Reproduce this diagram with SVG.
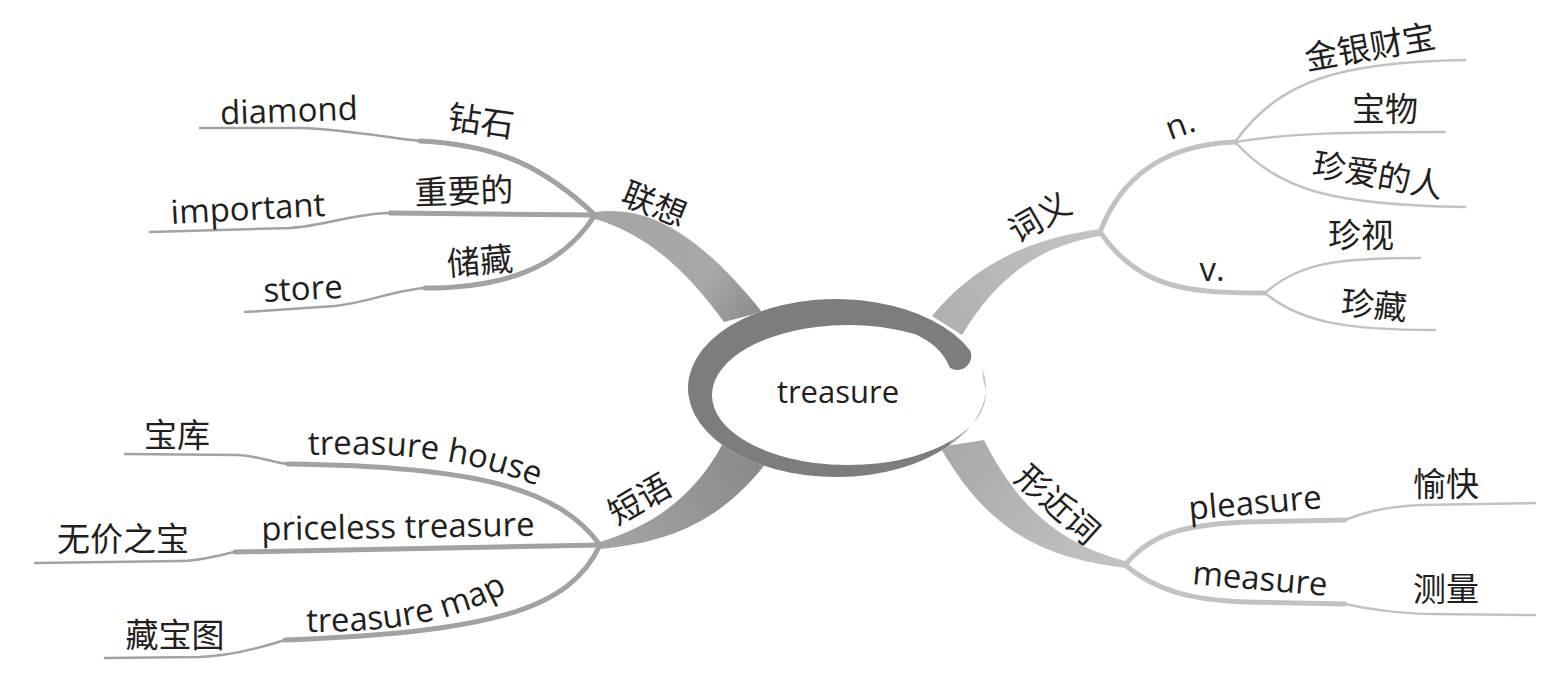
<svg xmlns="http://www.w3.org/2000/svg" width="1541" height="687" viewBox="0 0 1541 687">
<style>
text{font-family:"Open Sans","Noto Sans CJK SC",sans-serif;font-size:33px;fill:#231f20;text-anchor:middle}
.sl{fill:none;stroke:#a2a2a2;stroke-linecap:round}
.sr{fill:none;stroke:#c2c2c2;stroke-linecap:round}
.w5{stroke-width:5}
.w3{stroke-width:2.5}
</style>
<defs>
<linearGradient id="gTL" gradientUnits="userSpaceOnUse" x1="750" y1="315" x2="595" y2="215"><stop offset="0" stop-color="#8e8e8e"/><stop offset="0.3" stop-color="#a8a8a8"/><stop offset="1" stop-color="#a5a5a5"/></linearGradient>
<linearGradient id="gTR" gradientUnits="userSpaceOnUse" x1="945" y1="325" x2="1100" y2="232"><stop offset="0" stop-color="#b0b0b0"/><stop offset="1" stop-color="#c4c4c4"/></linearGradient>
<linearGradient id="gBL" gradientUnits="userSpaceOnUse" x1="750" y1="450" x2="600" y2="545"><stop offset="0" stop-color="#8a8a8a"/><stop offset="1" stop-color="#a5a5a5"/></linearGradient>
<linearGradient id="gBR" gradientUnits="userSpaceOnUse" x1="960" y1="445" x2="1125" y2="565"><stop offset="0" stop-color="#aaaaaa"/><stop offset="1" stop-color="#c4c4c4"/></linearGradient>
<linearGradient id="gRing" gradientUnits="userSpaceOnUse" x1="0" y1="360" x2="0" y2="450"><stop offset="0" stop-color="#d6d6d6"/><stop offset="1" stop-color="#9a9a9a"/></linearGradient>
</defs>
<g id="connectors">
<path d="M595,212 C650,205 700,235 762,312 L724,322 C690,275 650,235 595,219 Z" fill="url(#gTL)"/>
<path d="M932,316 C970,270 1020,240 1100,229 L1100,236 C1045,245 1000,272 962,335 Z" fill="url(#gTR)"/>
<path d="M600,542 C655,525 695,495 722,445 L770,458 C725,518 675,542 600,549 Z" fill="url(#gBL)"/>
<path d="M940,447 C985,525 1035,557 1125,568 L1125,561 C1065,545 1020,512 984,440 Z" fill="url(#gBR)"/>
<path class="sl w5" d="M595,215 C545,168 500,145 420,141"/>
<path class="sl w3" d="M420,141 C385,137 340,129 300,128 L200,128"/>
<path class="sl w5" d="M595,215 L390,213"/>
<path class="sl w3" d="M390,213 C355,213 325,226 290,228 L150,232"/>
<path class="sl w5" d="M595,215 C560,270 500,288 425,288"/>
<path class="sl w3" d="M425,288 C395,290 370,302 335,306 L245,312"/>
<path class="sr w5" d="M1100,232 C1120,180 1160,145 1235,142"/>
<path class="sr w5" d="M1100,232 C1140,290 1190,293 1265,293"/>
<path class="sr w3" d="M1235,142 C1280,80 1340,62 1465,60"/>
<path class="sr w3" d="M1235,142 C1290,133 1350,132 1445,132"/>
<path class="sr w3" d="M1235,142 C1280,190 1330,205 1465,207"/>
<path class="sr w3" d="M1265,293 C1300,262 1340,258 1420,258"/>
<path class="sr w3" d="M1265,293 C1300,322 1345,330 1435,330"/>
<path class="sl w5" d="M600,545 C560,490 480,466 288,464"/>
<path class="sl w3" d="M288,464 C270,462 258,456 238,455 L125,454"/>
<path class="sl w5" d="M600,545 L235,552"/>
<path class="sl w3" d="M235,552 C215,556 200,561 180,561 L35,563"/>
<path class="sl w5" d="M600,545 C570,610 490,632 285,640"/>
<path class="sl w3" d="M285,640 C260,648 230,656 200,657 L105,658"/>
<path class="sr w5" d="M1125,565 C1150,535 1180,525 1245,522 L1345,520"/>
<path class="sr w3" d="M1345,520 C1360,514 1380,507 1420,505 L1535,503"/>
<path class="sr w5" d="M1125,565 C1155,590 1190,600 1245,602 L1345,604"/>
<path class="sr w3" d="M1345,604 C1365,608 1390,613 1430,614 L1535,615"/>
<path id="pHouse" d="M308,455 C400,452 470,458 548,490" fill="none"/>
<path id="pMap" d="M306,632 C390,632 452,624 515,588" fill="none"/>
</g>
<g id="center">
<ellipse cx="836" cy="388" rx="148" ry="89" fill="#fff"/>
<path d="M949.4,445.2 A148,89 0 0 0 982.5,368 L983,380 A136,70 0 0 1 952.2,440 Z" fill="url(#gRing)"/>
<path d="M970.1,350.4 A148,89 0 1 0 949.4,445.2 L952.2,440 A136,70 0 1 1 916,334.4 C932,342 944,352 950,368 A14,14 0 0 0 970.1,350.4 Z" fill="#7d7d7d"/>
<text x="838" y="403" style="font-size:31px">treasure</text>
</g>
<g id="n-lianxiang"><text x="654" y="216" transform="rotate(22 654 205)">联想</text></g>
<g id="n-zuanshi"><text x="481" y="133" transform="rotate(8 481 122)">钻石</text></g>
<g id="n-diamond"><text x="289" y="122" transform="rotate(-2 289 112)">diamond</text></g>
<g id="n-zhongyao"><text x="464" y="203" transform="rotate(-2 464 192)">重要的</text></g>
<g id="n-important"><text x="248" y="220" transform="rotate(-3 248 210)">important</text></g>
<g id="n-chucang"><text x="480" y="273" transform="rotate(-5 480 262)">储藏</text></g>
<g id="n-store"><text x="303" y="300" transform="rotate(-3 303 290)">store</text></g>
<g id="n-ciyi"><text x="1040" y="229" transform="rotate(-30 1040 218)">词义</text></g>
<g id="n-n"><text x="1180" y="136" transform="rotate(-20 1180 125)">n.</text></g>
<g id="n-v"><text x="1212" y="281">v.</text></g>
<g id="n-jinyin"><text x="1370" y="59" transform="rotate(-10 1370 48)">金银财宝</text></g>
<g id="n-baowu"><text x="1385" y="121">宝物</text></g>
<g id="n-zhenai"><text x="1378" y="187" transform="rotate(10 1378 176)">珍爱的人</text></g>
<g id="n-zhenshi"><text x="1361" y="247">珍视</text></g>
<g id="n-zhencang"><text x="1374" y="317" transform="rotate(5 1374 306)">珍藏</text></g>
<g id="n-duanyu"><text x="640" y="511" transform="rotate(-30 640 500)">短语</text></g>
<g id="n-baoku"><text x="177" y="447">宝库</text></g>
<g id="n-house"><text style="text-anchor:start"><textPath href="#pHouse">treasure house</textPath></text></g>
<g id="n-wujia"><text x="123" y="551">无价之宝</text></g>
<g id="n-priceless"><text x="398" y="538" transform="rotate(-1 398 528)">priceless treasure</text></g>
<g id="n-map"><text style="text-anchor:start"><textPath href="#pMap">treasure map</textPath></text></g>
<g id="n-cangbaotu"><text x="175" y="647">藏宝图</text></g>
<g id="n-xingjin"><text x="1057" y="516" transform="rotate(42 1057 505)">形近词</text></g>
<g id="n-pleasure"><text x="1255" y="514" transform="rotate(-5 1255 503)">pleasure</text></g>
<g id="n-yukuai"><text x="1446" y="496">愉快</text></g>
<g id="n-measure"><text x="1260" y="590" transform="rotate(5 1260 580)">measure</text></g>
<g id="n-celiang"><text x="1446" y="601">测量</text></g>
</svg>
